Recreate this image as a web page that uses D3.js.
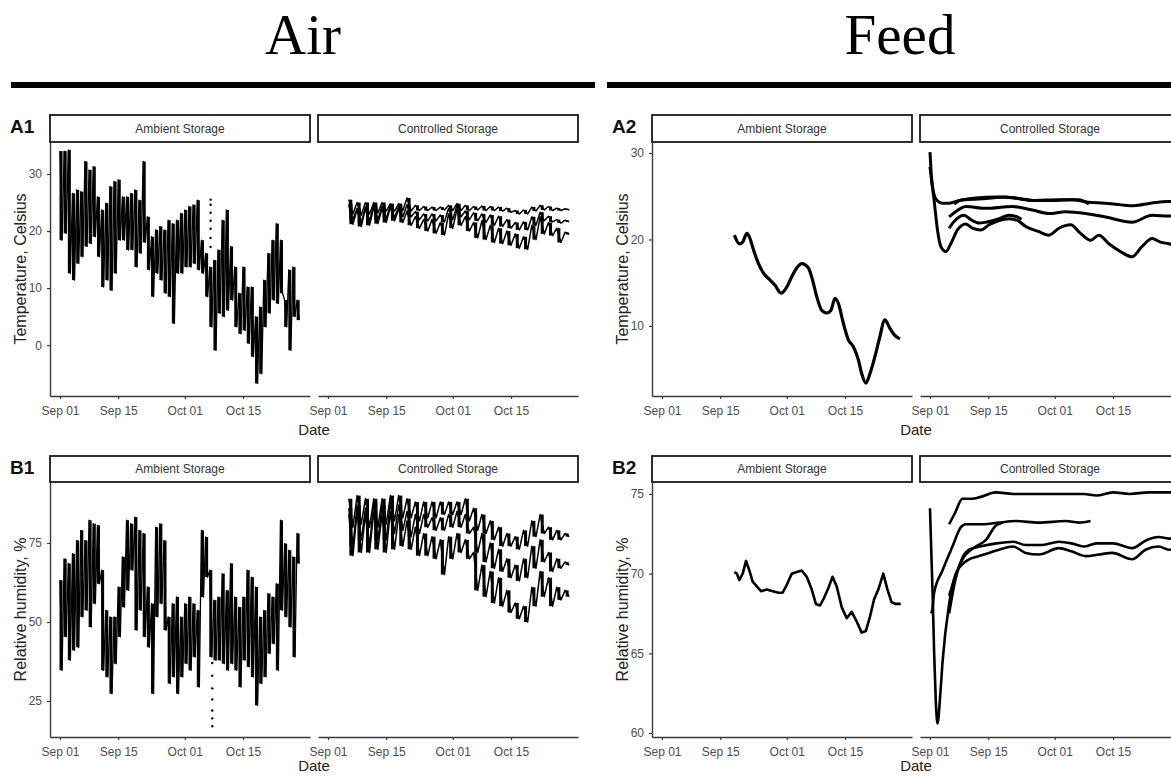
<!DOCTYPE html>
<html>
<head>
<meta charset="utf-8">
<script src="https://cdn.jsdelivr.net/npm/d3@7"></script>
<style>
  body { margin: 0; background: #fff; }
  text { font-family: "Liberation Sans", Arial, sans-serif; }
</style>
</head>
<body>
<div id="chart"></div>
<script>
// ---- data (days counted from Sep 01) ----
// ambient air, daily max / min, day 0 .. 57
const airTempAmbHi = [34, 34, 34.2, 26.6, 27.2, 26.9, 32.2, 30.7, 31.3, 26, 23.7, 24.9, 27.8, 28.7, 29, 26, 26, 26.6, 27.2, 25.4,
  32.2, 22.5, 19, 20.2, 20.8, 20.2, 21.9, 21.3, 21.9, 23.1, 23.7, 24.3, 24.6, 25.4, 18.4, 16.1, 13.7, 14.9, 16.7, 21.9,
  23.7, 17.3, 13.7, 9.1, 13.7, 10.2, 10.2, 5, 6.7, 11.4, 16.1, 18.4, 21.3, 18.4, 7.9, 13.2, 13.7, 7.9];
const airTempAmbLo = [18.4, 19.6, 12.6, 11.4, 14.3, 15.5, 17.3, 17.8, 19, 15.5, 10.2, 11.4, 9.6, 12.6, 18.4, 18.4, 16.7, 16.7, 13.7, 16.1,
  18, 13.2, 8.5, 12.6, 11.4, 9.1, 8.5, 3.8, 12.6, 12.6, 13.7, 13.7, 14.3, 13.2, 12.6, 8.5, 3.2, -0.9, 5.6, 5,
  6.1, 7.9, 3.2, 2, 2.6, 0.3, -2, -6.7, -5, 3.2, 5.6, 7.9, 7.3, 9.1, 3.2, -0.9, 5, 4.4];
const airRhAmbHi = [63.2, 70, 68.5, 71.6, 75.8, 79, 75.8, 82.2, 81.1, 80.6, 66.4, 53.7, 51.6, 51.6, 61.1, 70.6, 82.2, 81.1, 83.2, 79,
  78, 61.1, 55.8, 80, 81.1, 75.8, 51.6, 55.8, 57.9, 51.6, 55.8, 57.9, 55.8, 53.7, 79, 76.9, 66.4, 56.9, 57.9, 65.3,
  60, 68.5, 57.9, 54.7, 57.9, 66.4, 64.2, 61.1, 51.6, 53.7, 59, 57.9, 62.1, 82.2, 74.8, 72.7, 70.6, 78];
const airRhAmbLo = [34.7, 45.3, 37.9, 41, 42, 51.6, 53.7, 48.4, 55.8, 62.1, 34.7, 32.6, 27.3, 36.8, 45.3, 54.7, 60, 66.4, 47.4, 53.7,
  45.3, 42, 27.3, 51.6, 55.8, 47.4, 30.5, 32.6, 27.3, 32.6, 36.8, 34.7, 38.9, 29.4, 57.9, 64.2, 38.9, 37.9, 37.9, 36.8,
  34.7, 36.8, 34.7, 29.4, 37.9, 35.8, 32.6, 23.6, 30.5, 32.6, 40, 43.1, 34.7, 53.7, 51.6, 48.4, 38.9, 68.5];

// stray readings (day, value)
const airTempOutliers = [[36.2, 25.5], [36.2, 24.6], [36.2, 23.2], [36.2, 21.8], [36.2, 20.4], [36.2, 18.8], [36.2, 17.2]];
const airRhOutliers = [[36.6, 37], [36.6, 33], [36.6, 29], [36.6, 25.5], [36.6, 22], [36.6, 19.5], [36.6, 17]];

// controlled air, three loggers, max / min every second day
const ctlDays = [5, 7, 9, 11, 13, 15, 17, 19, 21, 23, 25, 27, 29, 31, 33, 35, 37, 39, 41, 43, 45, 47, 49, 51, 53, 55, 57];
const airTempCtlHi = [
  [25.5, 25, 25, 25, 25, 24.8, 24.8, 25.8, 24.5, 24.3, 24.2, 24.2, 24.5, 24.8, 24.5, 24.3, 24.4, 24.3, 24.2, 24, 23.6, 23.7, 24.2, 24.5, 24.3, 24, 23.9],
  [24.8, 24, 24.2, 24.5, 24.4, 24.5, 24.3, 24.6, 23.4, 23, 23, 22.8, 24, 24.5, 23.5, 23.2, 23, 22.8, 22.6, 22, 21.5, 21.6, 22.5, 23.3, 22.6, 22, 21.9],
  [24.5, 23.8, 24, 24.2, 24, 24.2, 23.8, 23.5, 22.5, 22, 22, 21.5, 23, 23.8, 22.5, 21.5, 21.8, 21, 20.5, 20, 19.5, 19, 21, 22.5, 21.5, 20.5, 19.8]
];
const airTempCtlLo = [
  [23, 22.8, 23, 23.2, 23.5, 23.5, 23.6, 23.5, 23.6, 23.6, 23.6, 23.7, 23.6, 23.6, 23.6, 23.7, 23.6, 23.6, 23.5, 23.3, 23, 23, 23.5, 23.7, 23.6, 23.6, 23.7],
  [22, 21.5, 21.8, 22, 22.2, 22.4, 22.5, 22.5, 22, 21.8, 21.8, 21.6, 22, 22.5, 22, 21.8, 21.5, 21, 20.8, 20.5, 20.2, 20.2, 21, 21.8, 21.6, 21.4, 21.6],
  [21.2, 20.8, 21, 21.3, 21.5, 21.8, 21.5, 21, 20.5, 20, 19.6, 19.3, 20.5, 21, 20, 18.8, 18.5, 18, 17.8, 17.5, 17, 16.8, 18.5, 19.5, 19.2, 18, 19.4]
];
const airRhCtlHi = [
  [89, 90, 89, 89, 89, 90, 90, 89, 88, 88, 88, 88, 88, 88, 89, 86, 84, 82, 80, 78, 77, 79, 82, 84, 80, 79, 78],
  [86, 87, 86, 88, 87, 88, 87, 85, 84, 84, 83, 83, 84, 85, 84, 80, 78, 75, 73, 70, 68, 70, 74, 76, 72, 70, 69],
  [84, 85, 84, 85, 84, 85, 84, 82, 80, 78, 77, 76, 77, 78, 76, 72, 68, 66, 64, 60, 56, 55, 61, 66, 64, 61, 60]
];
const airRhCtlLo = [
  [80, 81, 80, 80, 81, 82, 83, 83, 82, 83, 83, 84, 84, 84, 82, 79, 78, 76, 74, 74, 73, 74, 77, 78, 76, 76, 77],
  [74, 76, 74, 76, 76, 78, 79, 77, 78, 80, 79, 79, 80, 80, 78, 72, 69, 67, 66, 64, 63, 64, 67, 69, 66, 67, 68],
  [71, 72, 72, 73, 72, 73, 74, 73, 71, 71, 70, 65, 70, 72, 70, 60, 58, 56, 55, 53, 51, 50, 55, 58, 55, 57, 58]
];

// feed, [day, value]
const feedTempAmb = [[17.4, 20.5], [18.6, 19.5], [19.4, 19.7], [20.4, 20.7], [21, 20.3], [22, 18.8], [23.2, 17.2], [24.4, 16.1],
  [26, 15.3], [27.2, 14.7], [28.6, 13.8], [30, 14.5], [31.2, 15.7], [32.4, 16.7], [33.6, 17.2], [35.2, 16.7], [36.2, 15.3],
  [37.2, 13.4], [38.4, 11.8], [39.6, 11.5], [40.6, 11.8], [41.6, 13.2], [42.4, 12.6], [43.6, 10.3], [44.8, 8.4], [46, 7.6],
  [47.2, 6.1], [48, 4.5], [49, 3.4], [50, 4.5], [51.2, 6.5], [52.2, 8.4], [53.6, 10.7], [54.6, 9.9], [55.8, 9], [57.2, 8.5]];
const feedTempCtl = [
  [[0, 30.1], [0.3, 27.6], [1, 24.5], [1.8, 21.1], [2.6, 19.2], [3.8, 18.6], [5, 19.5], [6.6, 21.1], [8.6, 21.8], [10.2, 21.3],
   [12.2, 21.1], [14.2, 21.7], [16.6, 22.2], [19, 22.4], [21, 22.2], [23, 21.5], [26.2, 20.9], [28.6, 20.5], [31, 21.3],
   [33.8, 21.7], [36.2, 20.7], [38.6, 19.9], [40.6, 20.5], [43, 19.5], [45.8, 18.6], [48.6, 18], [51, 19.2], [53.4, 20.1],
   [55.4, 19.7], [57.4, 19.5], [59, 19.3]],
  [[0, 28.4], [0.6, 26.1], [1.4, 24.7], [3, 24.2], [4.6, 24.2], [7, 24.5], [11, 24.8], [15.8, 24.9], [20.6, 24.8], [25.4, 24.5],
   [30.2, 24.5], [34.2, 24.6], [38, 24.3], [42, 24.2], [46, 24], [49, 23.9], [53, 24.2], [57.4, 24.4], [59, 24.4]],
  [[5.8, 24.1], [7.8, 24.6], [12.6, 24.7], [18.2, 24.9], [24.6, 24.5], [31, 24.6], [35.8, 24.6], [38.2, 24.1]],
  [[4.6, 22.6], [7.4, 23.6], [8.6, 23.8], [13.4, 23.6], [19.8, 23.8], [24.6, 23.4], [28.6, 23], [32.6, 23.2], [37.4, 23],
   [42.2, 22.6], [48.6, 22], [53.4, 22.8], [57.4, 22.7], [59, 22.8]],
  [[4.6, 21.3], [6, 22.2], [8.2, 22.8], [9.8, 22.3], [11.8, 21.9], [13.4, 22], [16.6, 22.4], [19, 22.8], [21, 22.6], [22, 22.3]]
];
const feedRhAmb = [[17.4, 70.1], [18, 70], [18.6, 69.6], [19.4, 70], [20.2, 70.8], [21, 70.2], [21.8, 69.5], [22.8, 69.2],
  [23.8, 68.9], [25.2, 69], [26.6, 68.9], [28, 68.8], [29, 68.8], [30, 69.3], [31.2, 70], [32.4, 70.1], [33.6, 70.2],
  [34.8, 69.8], [36, 69], [37, 68.1], [38, 68], [39, 68.5], [40, 69.1], [41, 69.8], [42, 69.2], [43.2, 67.9], [44.4, 67.2],
  [45.6, 67.6], [46.8, 67], [48, 66.3], [49, 66.4], [50, 67.3], [51, 68.4], [52, 69], [53.2, 70], [54.2, 69], [55.2, 68.2],
  [56.2, 68.1], [57.4, 68.1]];
const feedRhCtl = [
  [[0, 74.1], [0.4, 70.7], [0.7, 68.1], [1, 65], [1.4, 62], [1.8, 60.6], [2.5, 62.5], [3, 64.4], [4.6, 68.1], [6.2, 70],
   [7.8, 70.6], [9.4, 70.9], [11.8, 71.1], [14.2, 71.3], [16.6, 71.5], [20, 71.7], [23, 71.3], [26.2, 71.2], [31, 71.6],
   [34, 71.4], [37.4, 71.1], [40.6, 71.2], [43.8, 71.3], [48.6, 70.9], [51.8, 71.5], [55, 71.7], [57.4, 71.5], [59, 71.6]],
  [[4.6, 67.5], [6, 69.5], [7.8, 71], [9.4, 71.5], [12, 71.7], [16, 71.9], [20, 72], [23, 71.8], [27, 71.8], [31, 72],
   [34, 71.9], [37, 71.7], [40, 71.9], [44, 71.9], [48.6, 71.6], [52, 72.1], [55, 72.3], [57.4, 72.2], [59, 72.3]],
  [[0.3, 67.5], [0.6, 67.8], [1, 68.8], [3, 70.2], [5.4, 71.7], [7.4, 72.9], [8.6, 73.1], [12.6, 73.1], [16.6, 73.2],
   [20.6, 73.3], [26.2, 73.2], [32.6, 73.3], [35.8, 73.2], [38.6, 73.3]],
  [[4.6, 73.1], [6, 73.8], [7.8, 74.7], [10, 74.7], [12, 74.8], [15.8, 75.1], [20, 75], [24.6, 75], [30, 75], [37, 75],
   [40, 74.9], [44, 75.1], [48, 75], [52.6, 75.1], [57.4, 75.1], [59, 75.1]],
  [[4.6, 68.6], [5.8, 69.6], [7.4, 70.7], [8.6, 71.2], [11, 71.7], [13.4, 72.1], [15.8, 73], [17.4, 73.2]]
];

const tickDays = [0, 14, 30, 44];
const facetNames = ["Ambient Storage", "Controlled Storage"];

// ---- layout ----
const width = 1171, height = 776;
const panelW = 260, gap = 8;
const sep1 = new Date(2019, 8, 1);
const day = d => new Date(sep1.getTime() + d * 864e5);
const xDomain = [day(-2.4), day(60.1)];

const svg = d3.select("#chart").append("svg")
  .attr("width", width)
  .attr("height", height)
  .attr("viewBox", [0, 0, width, height]);

// headers
svg.append("text").attr("x", 303).attr("y", 54).attr("text-anchor", "middle")
  .style("font-family", "'Liberation Serif', 'Times New Roman', serif").style("font-size", "57px").text("Air");
svg.append("text").attr("x", 900).attr("y", 54).attr("text-anchor", "middle")
  .style("font-family", "'Liberation Serif', 'Times New Roman', serif").style("font-size", "57px").text("Feed");
svg.append("rect").attr("x", 11).attr("y", 82).attr("width", 584).attr("height", 6).attr("fill", "#000");
svg.append("rect").attr("x", 607).attr("y", 82).attr("width", 570).attr("height", 6).attr("fill", "#000");

const rows = {
  temp: { strip: 115, top: 142, bottom: 396, dateY: 435 },
  rh: { strip: 456, top: 482, bottom: 737, dateY: 771 }
};

function drawPlot(left, row, y, yTicks, yTitle, tag) {
  const xs = [0, 1].map(i => d3.scaleTime().domain(xDomain)
    .range([left + i * (panelW + gap), left + i * (panelW + gap) + panelW]));

  xs.forEach((xsc, i) => {
    const l = xsc.range()[0];
    svg.append("rect")
      .attr("x", l).attr("y", row.strip)
      .attr("width", panelW).attr("height", row.top - row.strip)
      .attr("fill", "#fff").attr("stroke", "#1a1a1a").attr("stroke-width", 1.8);
    svg.append("text")
      .attr("x", l + panelW / 2).attr("y", (row.strip + row.top) / 2 + 4)
      .attr("text-anchor", "middle").attr("fill", "#333")
      .style("font-size", "12px").text(facetNames[i]);

    const ax = svg.append("g")
      .attr("transform", `translate(0,${row.bottom})`)
      .call(d3.axisBottom(xsc).tickValues(tickDays.map(day))
        .tickFormat(d3.timeFormat("%b %d")).tickSize(3).tickSizeOuter(0).tickPadding(7));
    styleAxis(ax);
  });

  const ay = svg.append("g")
    .attr("transform", `translate(${left},0)`)
    .call(d3.axisLeft(y).tickValues(yTicks).tickSize(3).tickSizeOuter(0).tickPadding(5));
  styleAxis(ay);

  const cy = (row.top + row.bottom) / 2;
  svg.append("text")
    .attr("transform", `translate(${left - 24},${cy}) rotate(-90)`)
    .attr("text-anchor", "middle").attr("fill", "#222")
    .style("font-size", "16px").text(yTitle);
  svg.append("text")
    .attr("x", left + panelW + gap / 2).attr("y", row.dateY)
    .attr("text-anchor", "middle").attr("fill", "#222")
    .style("font-size", "15px").text("Date");
  svg.append("text")
    .attr("x", left - 40).attr("y", row.strip + 18)
    .attr("font-weight", "bold").attr("fill", "#111")
    .style("font-size", "19px").text(tag);

  return xs;
}

function styleAxis(g) {
  g.select(".domain").attr("stroke", "#3a3a3a").attr("stroke-width", 1.4);
  g.selectAll(".tick line").attr("stroke", "#3a3a3a").attr("stroke-width", 1.2);
  g.selectAll(".tick text").attr("fill", "#4d4d4d")
    .style("font-size", "12px").style("font-family", "'Liberation Sans', Arial, sans-serif");
}

// zigzag through daily max then min
function zig(days, hi, lo, half) {
  const pts = [];
  days.forEach((d, i) => { pts.push([d, hi[i]]); pts.push([d + half, lo[i]]); });
  return pts;
}

// one dense vertical stroke per reading window, from min to max
function bars(xsc, y, days, hi, lo, span, w) {
  svg.append("g").selectAll("rect").data(days).join("rect")
    .attr("x", d => xsc(day(d + span / 2)) - w / 2)
    .attr("width", w)
    .attr("y", (d, i) => y(hi[i]))
    .attr("height", (d, i) => y(lo[i]) - y(hi[i]))
    .attr("fill", "#000");
}

function path(xsc, y, pts, sw, curve) {
  const line = d3.line()
    .x(p => xsc(day(p[0])))
    .y(p => y(p[1]))
    .curve(curve || d3.curveLinear);
  svg.append("path")
    .datum(pts)
    .attr("d", line)
    .attr("fill", "none")
    .attr("stroke", "#000")
    .attr("stroke-width", sw)
    .attr("stroke-linejoin", "round");
}

function dots(xsc, y, pts) {
  svg.append("g").selectAll("circle").data(pts).join("circle")
    .attr("cx", p => xsc(day(p[0]))).attr("cy", p => y(p[1])).attr("r", 1.2).attr("fill", "#000");
}

const ambDays = airTempAmbHi.map((v, i) => i);

// A1 air temperature
const yA1 = d3.scaleLinear().domain([-8.9, 35.6]).range([rows.temp.bottom, rows.temp.top]);
const xA1 = drawPlot(50, rows.temp, yA1, [0, 10, 20, 30], "Temperature, Celsius", "A1");
bars(xA1[0], yA1, ambDays, airTempAmbHi, airTempAmbLo, 0.5, 3);
path(xA1[0], yA1, zig(ambDays, airTempAmbHi, airTempAmbLo, 0.5), 1.3);
dots(xA1[0], yA1, airTempOutliers);
airTempCtlHi.forEach((hi, k) => {
  bars(xA1[1], yA1, ctlDays, hi, airTempCtlLo[k], 1, 3);
  path(xA1[1], yA1, zig(ctlDays, hi, airTempCtlLo[k], 1), 1.5);
});

// B1 air humidity
const yB1 = d3.scaleLinear().domain([13.6, 94.3]).range([rows.rh.bottom, rows.rh.top]);
const xB1 = drawPlot(50, rows.rh, yB1, [25, 50, 75], "Relative humidity, %", "B1");
bars(xB1[0], yB1, ambDays, airRhAmbHi, airRhAmbLo, 0.5, 3);
path(xB1[0], yB1, zig(ambDays, airRhAmbHi, airRhAmbLo, 0.5), 1.3);
dots(xB1[0], yB1, airRhOutliers);
airRhCtlHi.forEach((hi, k) => {
  bars(xB1[1], yB1, ctlDays, hi, airRhCtlLo[k], 1, 3);
  path(xB1[1], yB1, zig(ctlDays, hi, airRhCtlLo[k], 1), 1.5);
});

// A2 feed temperature
const yA2 = d3.scaleLinear().domain([1.9, 31.27]).range([rows.temp.bottom, rows.temp.top]);
const xA2 = drawPlot(652, rows.temp, yA2, [10, 20, 30], "Temperature, Celsius", "A2");
path(xA2[0], yA2, feedTempAmb, 3.2, d3.curveMonotoneX);
feedTempCtl.forEach(s => path(xA2[1], yA2, s, 3, d3.curveMonotoneX));

// B2 feed humidity
const yB2 = d3.scaleLinear().domain([59.75, 75.75]).range([rows.rh.bottom, rows.rh.top]);
const xB2 = drawPlot(652, rows.rh, yB2, [60, 65, 70, 75], "Relative humidity, %", "B2");
path(xB2[0], yB2, feedRhAmb, 2.6);
feedRhCtl.forEach(s => path(xB2[1], yB2, s, 2.6, d3.curveMonotoneX));
</script>
</body>
</html>
